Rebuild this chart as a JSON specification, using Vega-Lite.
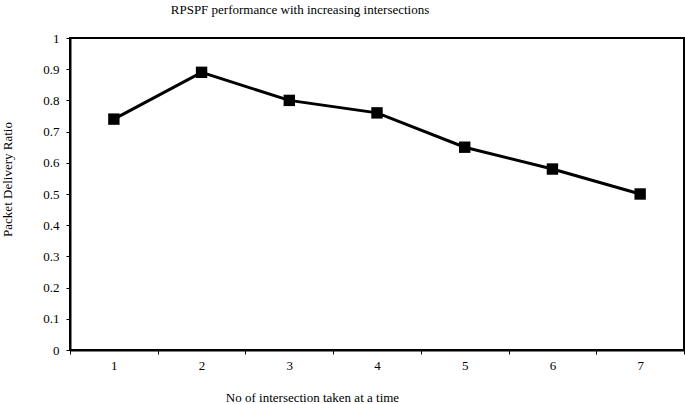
{
  "$schema": "https://vega.github.io/schema/vega-lite/v6.json",
  "autosize": "none",
  "width": 614,
  "height": 312,
  "padding": {"left": 70, "top": 38, "right": 1, "bottom": 54},
  "background": "white",
  "title": {
    "text": "RPSPF performance with increasing intersections",
    "font": "Liberation Serif",
    "fontSize": 13,
    "fontWeight": "normal",
    "color": "black",
    "anchor": "middle",
    "dx": -77,
    "offset": 15
  },
  "config": {
    "view": {"stroke": "black", "strokeWidth": 2},
    "axis": {
      "labelFont": "Liberation Serif",
      "titleFont": "Liberation Serif",
      "labelFontSize": 13,
      "titleFontSize": 13,
      "titleFontWeight": "normal",
      "labelColor": "black",
      "titleColor": "black",
      "domainColor": "black",
      "domainWidth": 2,
      "tickColor": "black",
      "tickWidth": 1,
      "tickSize": 4,
      "grid": false
    }
  },
  "data": {
    "values": [
      {"n": "1", "pdr": 0.74},
      {"n": "2", "pdr": 0.89},
      {"n": "3", "pdr": 0.80},
      {"n": "4", "pdr": 0.76},
      {"n": "5", "pdr": 0.65},
      {"n": "6", "pdr": 0.58},
      {"n": "7", "pdr": 0.50}
    ]
  },
  "encoding": {
    "x": {
      "field": "n",
      "type": "ordinal",
      "scale": {"paddingInner": 0, "paddingOuter": 0},
      "axis": {
        "title": "No of intersection taken at a time",
        "labelAngle": 0,
        "tickBand": "extent",
        "labelPadding": 5,
        "titleX": 242,
        "titleY": 51,
        "titleAlign": "center",
        "titleBaseline": "alphabetic"
      }
    },
    "y": {
      "field": "pdr",
      "type": "quantitative",
      "scale": {"domain": [0, 1]},
      "axis": {
        "title": "Packet Delivery Ratio",
        "values": [0, 0.1, 0.2, 0.3, 0.4, 0.5, 0.6, 0.7, 0.8, 0.9, 1],
        "format": ".1~f",
        "labelPadding": 7,
        "titleX": -63,
        "titleY": 141,
        "titleAlign": "center",
        "titleBaseline": "middle"
      }
    }
  },
  "layer": [
    {"mark": {"type": "line", "color": "black", "strokeWidth": 3}},
    {"mark": {"type": "point", "shape": "square", "filled": true, "opacity": 1, "color": "black", "size": 130}}
  ]
}
